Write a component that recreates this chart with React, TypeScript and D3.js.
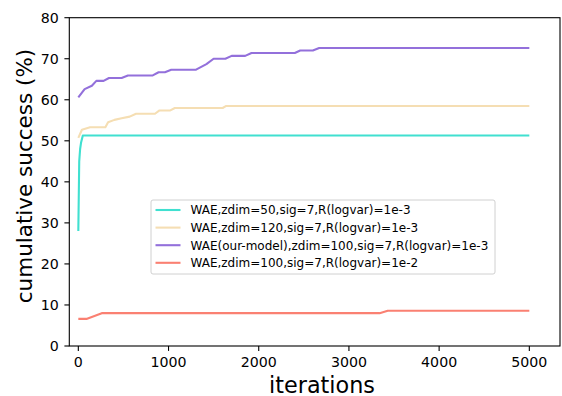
import * as d3 from 'd3';

const W = 562;
const H = 396;

// [iteration, cumulative success %]
const cyanSeries: [number, number][] = [
  [0, 28], [10, 45], [20, 48], [30, 49.5], [50, 51.3], [5000, 51.3],
];
const wheatSeries: [number, number][] = [
  [0, 50.7], [40, 52.7], [130, 53.3], [300, 53.3], [330, 54.5], [400, 55.1],
  [480, 55.5], [570, 55.9], [640, 56.6], [850, 56.6], [900, 57.4], [1020, 57.4],
  [1070, 58], [1600, 58], [1640, 58.5], [5000, 58.5],
];
const purpleSeries: [number, number][] = [
  [0, 60.6], [70, 62.6], [150, 63.4], [200, 64.6], [280, 64.6], [340, 65.3],
  [480, 65.3], [550, 65.9], [820, 65.9], [890, 66.7], [960, 66.7], [1030, 67.3],
  [1300, 67.3], [1420, 68.7], [1500, 70], [1630, 70], [1700, 70.7], [1850, 70.7],
  [1920, 71.4], [2400, 71.4], [2460, 72], [2600, 72], [2670, 72.6], [5000, 72.6],
];
const salmonSeries: [number, number][] = [
  [0, 6.6], [90, 6.6], [260, 8.0], [3340, 8.0], [3430, 8.6], [5000, 8.6],
];

const seriesLabels = [
  'WAE,zdim=50,sig=7,R(logvar)=1e-3',
  'WAE,zdim=120,sig=7,R(logvar)=1e-3',
  'WAE(our-model),zdim=100,sig=7,R(logvar)=1e-3',
  'WAE,zdim=100,sig=7,R(logvar)=1e-2',
];
const seriesColors = ['#40E0D0', '#F5DEB3', '#9370DB', '#FA8072'];
const allSeries = [cyanSeries, wheatSeries, purpleSeries, salmonSeries];

const xTicks = [0, 1000, 2000, 3000, 4000, 5000];
const yTicks = [0, 10, 20, 30, 40, 50, 60, 70, 80];

const LEFT = 69.3;
const RIGHT = 560;
const TOP = 17.7;
const BOTTOM = 346;
const FONT = '"DejaVu Sans", sans-serif';

export default function App() {
  const x = d3.scaleLinear().domain([-100, 5340]).range([LEFT, RIGHT]);
  const y = d3.scaleLinear().domain([0, 80]).range([BOTTOM, TOP]);
  const line = d3
    .line<[number, number]>()
    .x((d) => x(d[0]))
    .y((d) => y(d[1]));

  // legend box
  const lgX = 151;
  const lgY = 200;
  const lgW = 344;
  const lgH = 74;
  const rowH = 17.6;

  return (
    <svg
      width={W}
      height={H}
      style={{ position: 'absolute', left: 0, top: 0, background: '#fff' }}
      fontFamily={FONT}
    >
      <rect width={W} height={H} fill="#fff" />

      {allSeries.map((s, i) => (
        <path
          key={i}
          d={line(s) ?? ''}
          fill="none"
          stroke={seriesColors[i]}
          strokeWidth={2.1}
          strokeLinejoin="round"
        />
      ))}

      {/* spines */}
      <rect
        x={LEFT}
        y={TOP}
        width={RIGHT - LEFT}
        height={BOTTOM - TOP}
        fill="none"
        stroke="#000"
        strokeWidth={1.1}
      />

      {/* x ticks */}
      {xTicks.map((t) => (
        <g key={t} transform={`translate(${x(t)},${BOTTOM})`}>
          <line y2={4.9} stroke="#000" strokeWidth={1.1} />
          <text y={20.8} textAnchor="middle" fontSize={14.2} fill="#000">
            {t}
          </text>
        </g>
      ))}

      {/* y ticks */}
      {yTicks.map((t) => (
        <g key={t} transform={`translate(${LEFT},${y(t)})`}>
          <line x2={-4.9} stroke="#000" strokeWidth={1.1} />
          <text x={-10.5} dy="0.36em" textAnchor="end" fontSize={14.2} fill="#000">
            {t}
          </text>
        </g>
      ))}

      <text x={322} y={392.5} textAnchor="middle" fontSize={22.3} fill="#000">
        iterations
      </text>
      <text
        transform="translate(32,176) rotate(-90)"
        textAnchor="middle"
        fontSize={21.5}
        fill="#000"
      >
        cumulative success (%)
      </text>

      {/* legend */}
      <rect
        x={lgX}
        y={lgY}
        width={lgW}
        height={lgH}
        rx={2}
        fill="#fff"
        fillOpacity={0.8}
        stroke="#d0d0d0"
        strokeWidth={1}
      />
      {seriesLabels.map((lab, i) => {
        const cy = lgY + 10 + i * rowH;
        return (
          <g key={lab}>
            <line
              x1={lgX + 4.5}
              x2={lgX + 29.5}
              y1={cy}
              y2={cy}
              stroke={seriesColors[i]}
              strokeWidth={2.1}
            />
            <text x={lgX + 39.5} y={cy} dy="0.36em" fontSize={12} fill="#000">
              {lab}
            </text>
          </g>
        );
      })}
    </svg>
  );
}
